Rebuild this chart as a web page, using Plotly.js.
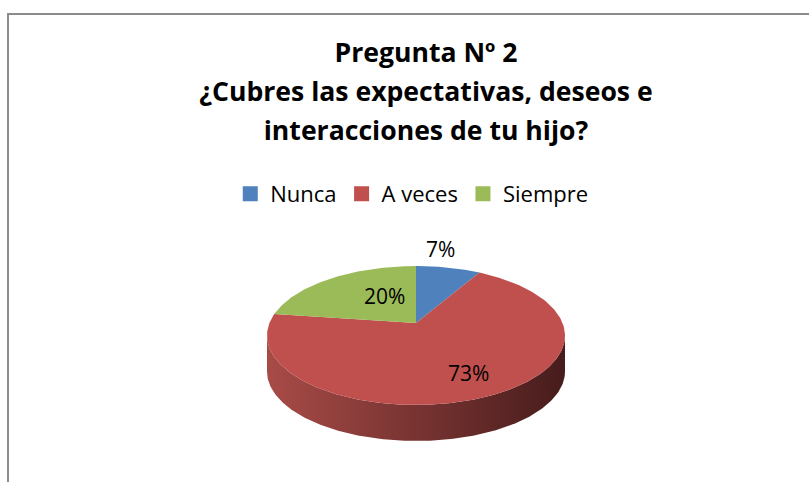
<!DOCTYPE html>
<html><head><meta charset="utf-8">
<script src="https://cdn.plot.ly/plotly-3.0.1.min.js"></script>
<style>html,body{margin:0;padding:0;background:#fff;}</style>
</head><body><div id="chart" style="width:809px;height:482px;"></div>
<script>
// ---- data ----
const categories = ['Nunca', 'A veces', 'Siempre'];
const values = [7, 73, 20];
const labels = ['7%', '73%', '20%'];
const titleLines = ['Pregunta Nº 2', '¿Cubres las expectativas, deseos e', 'interacciones de tu hijo?'];
const topColors = ['#4F81BD', '#C0504D', '#9BBB59'];
const sideColors = [['#5B86BC', '#22384F'], ['#A84B47', '#471C1C'], ['#8FAD50', '#3E4C22']];

// ---- geometry / style ----
const W = 809, H = 482;
const cx = 416, cy = 335.5, rx = 149, ry = 69.5, depth = 36, apexDy = -12.5;
const labelPos = [[440, 249], [468, 373], [384, 296]];

const total = values.reduce((a, b) => a + b, 0);
function pt(f, dy) {
  const phi = 2 * Math.PI * f;
  return [cx + rx * Math.sin(phi), cy - ry * Math.cos(phi) + (dy || 0)];
}
function arc(f0, f1, dy) {
  const n = Math.max(2, Math.ceil(Math.abs(f1 - f0) * 400));
  const out = [];
  for (let i = 0; i <= n; i++) out.push(pt(f0 + (f1 - f0) * i / n, dy));
  return out;
}

const sideTraces = [], topTraces = [], legendTraces = [];
let acc = 0;
values.forEach((v, i) => {
  const f0 = acc / total, f1 = (acc + v) / total;
  acc += v;
  // visible side (front half of the disc)
  const a = Math.max(f0, 0.25), b = Math.min(f1, 0.75);
  if (a < b) {
    const pts = arc(a, b, 0).concat(arc(b, a, depth));
    sideTraces.push({
      type: 'scatter', mode: 'lines', fill: 'toself',
      x: pts.map(p => p[0]), y: pts.map(p => p[1]),
      line: {width: 0, color: sideColors[i][1]},
      fillcolor: sideColors[i][1],
      fillgradient: {type: 'horizontal', start: cx - rx, stop: cx + rx,
        colorscale: [[0, sideColors[i][0]], [1, sideColors[i][1]]]},
      hoverinfo: 'skip', showlegend: false
    });
  }
  // top face
  const apex = [cx, cy + apexDy];
  const pts = [apex].concat(arc(f0, f1, 0)).concat([apex]);
  topTraces.push({
    type: 'scatter', mode: 'lines', fill: 'toself',
    x: pts.map(p => p[0]), y: pts.map(p => p[1]),
    line: {width: 0, color: topColors[i]},
    fillcolor: topColors[i],
    name: categories[i], hoverinfo: 'name', showlegend: false
  });
  legendTraces.push({
    type: 'scatter', mode: 'markers', x: [null], y: [null],
    name: categories[i],
    marker: {symbol: 'square', size: 15, color: topColors[i]},
    showlegend: true, hoverinfo: 'skip'
  });
});

const annotations = labels.map((t, i) => ({
  x: labelPos[i][0], y: labelPos[i][1], xref: 'x', yref: 'y',
  text: t, showarrow: false,
  font: {family: 'Open Sans', size: 21, color: '#000'},
  xanchor: 'center', yanchor: 'middle'
}));

const layout = {
  width: W, height: H,
  margin: {l: 0, r: 0, t: 0, b: 0},
  paper_bgcolor: '#fff', plot_bgcolor: '#fff',
  xaxis: {range: [0, W], visible: false, fixedrange: true},
  yaxis: {range: [H, 0], visible: false, fixedrange: true},
  title: {
    text: titleLines.map(s => '<span style="font-size:26.6px"><b>' + s + '</b></span>').join('<br>'),
    font: {family: 'Open Sans', size: 30, color: '#000'},
    x: 426 / W, xanchor: 'center', xref: 'container',
    y: 1 - 62 / H, yanchor: 'top', yref: 'container'
  },
  showlegend: true,
  legend: {
    orientation: 'h', x: 0.509, xanchor: 'center', y: 1 - 194 / H, yanchor: 'middle',
    font: {family: 'Open Sans', size: 22, color: '#000'},
    bgcolor: 'rgba(0,0,0,0)', itemclick: false, itemdoubleclick: false
  },
  annotations: annotations,
  shapes: [
    {type: 'line', xref: 'paper', yref: 'paper', x0: 8 / W, x1: 1.02, y0: 1 - 14 / H, y1: 1 - 14 / H,
     line: {color: '#8C8C8C', width: 2}, layer: 'below'},
    {type: 'line', xref: 'paper', yref: 'paper', x0: 8 / W, x1: 8 / W, y0: 1 - 13 / H, y1: -0.05,
     line: {color: '#8C8C8C', width: 2}, layer: 'below'}
  ]
};

Plotly.newPlot('chart', sideTraces.concat(topTraces).concat(legendTraces), layout,
  {displayModeBar: false, staticPlot: true});
</script>
</body></html>
